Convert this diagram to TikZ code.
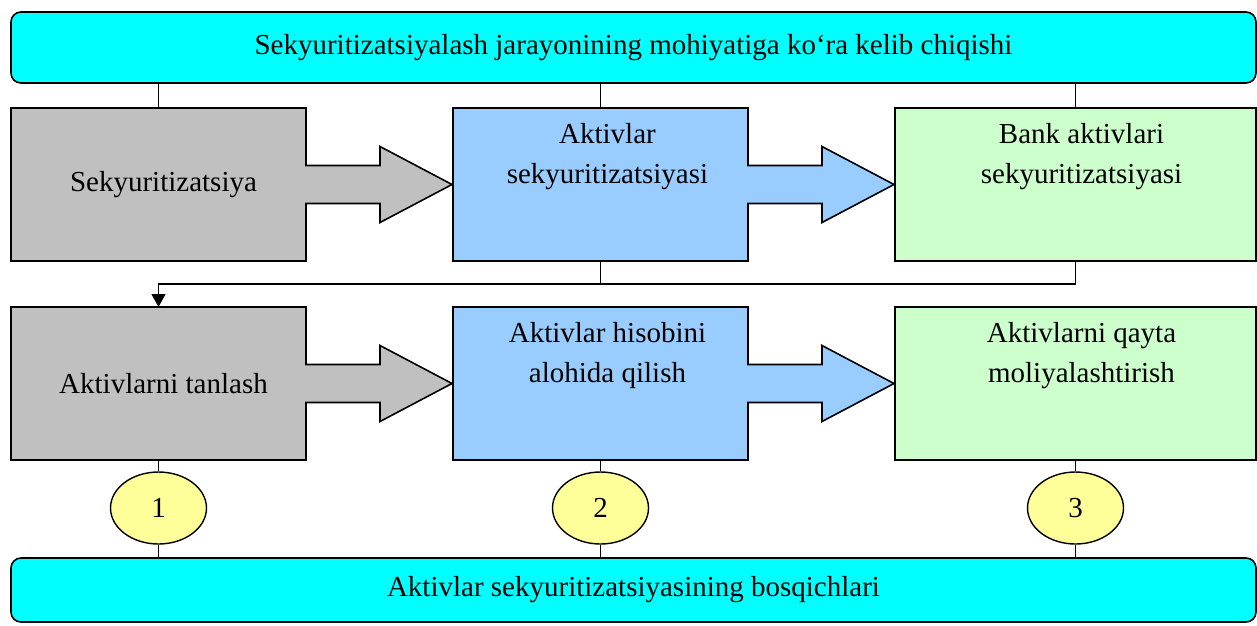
\documentclass[tikz,border=0pt]{standalone}
\usepackage{fontspec}
\setmainfont{Liberation Serif}
\usetikzlibrary{calc,arrows.meta,shapes.geometric}

\definecolor{bannercyan}{HTML}{00FFFF}
\definecolor{panelgray}{HTML}{C0C0C0}
\definecolor{panelblue}{HTML}{99CCFF}
\definecolor{panelgreen}{HTML}{CCFFCC}
\definecolor{stageyellow}{HTML}{FFFF99}

\tikzset{
  outline/.style={draw=black, line width=1.6pt, line join=miter},
  link/.style={draw=black, line width=1.2pt},
  panel/.style={rectangle, inner sep=0pt, outer sep=0pt,
    minimum width=295pt, minimum height=153pt},
  widepanel/.style={panel, minimum width=361pt},
  banner/.style={rectangle, rounded corners=10pt, outline, fill=bannercyan,
    inner sep=0pt, minimum width=1245pt, font=\fontsize{29}{40}\selectfont},
  label/.style={align=center, inner sep=0pt, font=\fontsize{29}{40}\selectfont},
  stage/.style={ellipse, outline, line width=1.4pt, fill=stageyellow, inner sep=0pt,
    minimum width=96pt, minimum height=72pt, font=\fontsize{29}{40}\selectfont},
}

% box with a block arrow growing out of its right side
\newcommand\panelarrow[2]{%
  \filldraw[outline, fill=#2]
    (#1.north west) -- (#1.north east) -- ($(#1.east)+(0,-19)$)
    -- ($(#1.east)+(74,-19)$) -- ($(#1.east)+(74,-38)$)
    -- ($(#1.east)+(146,0)$)
    -- ($(#1.east)+(74,38)$) -- ($(#1.east)+(74,19)$)
    -- ($(#1.east)+(0,19)$) -- (#1.south east) -- (#1.south west) -- cycle;}

\begin{document}
\begin{tikzpicture}[x=1pt, y=-1pt]
\useasboundingbox (0,0) rectangle (1257,625);

% banners
\node[banner, minimum height=71pt] (top) at (633.5,47.5)
  {Sekyuritizatsiyalash jarayonining mohiyatiga ko‘ra kelib chiqishi};
\node[banner, minimum height=64pt] (bottom) at (633.5,590)
  {Aktivlar sekyuritizatsiyasining bosqichlari};

% panel frames
\node[panel] (g1) at (158.5,184.5) {};
\node[panel] (b1) at (600.5,184.5) {};
\node[widepanel] (gr1) at (1075.5,184.5) {};
\node[panel] (g2) at (158.5,383.5) {};
\node[panel] (b2) at (600.5,383.5) {};
\node[widepanel] (gr2) at (1075.5,383.5) {};

\panelarrow{g1}{panelgray}
\panelarrow{b1}{panelblue}
\filldraw[outline, fill=panelgreen] (gr1.north west) rectangle (gr1.south east);
\panelarrow{g2}{panelgray}
\panelarrow{b2}{panelblue}
\filldraw[outline, fill=panelgreen] (gr2.north west) rectangle (gr2.south east);

% panel texts
\node[label] (t1) at ($(g1.center)+(5,0)$) {Sekyuritizatsiya};
\node[label] (t2) at ($(b1.north)+(7,49)$) {Aktivlar\\sekyuritizatsiyasi};
\node[label] (t3) at ($(gr1.north)+(6,49)$) {Bank aktivlari\\sekyuritizatsiyasi};
\node[label] (t4) at ($(g2.center)+(5,0)$) {Aktivlarni tanlash};
\node[label] (t5) at ($(b2.north)+(7,49)$) {Aktivlar hisobini\\alohida qilish};
\node[label] (t6) at ($(gr2.north)+(6,49)$) {Aktivlarni qayta\\moliyalashtirish};

% links from the upper banner
\draw[link] (top.south -| g1.north) -- (g1.north);
\draw[link] (top.south -| b1.north) -- (b1.north);
\draw[link] (top.south -| gr1.north) -- (gr1.north);

% return line into the second row
\coordinate (bend) at (0,284);
\draw[link] (b1.south) -- (b1.south |- bend);
\draw[link, -{Triangle[width=14pt,length=13pt]}]
  (gr1.south) -- (gr1.south |- bend) -| (g2.north);

% stage numbers
\node[stage] (n1) at ($(g2.south)+(0,48)$) {1};
\node[stage] (n2) at ($(b2.south)+(0,48)$) {2};
\node[stage] (n3) at ($(gr2.south)+(0,48)$) {3};
\foreach \p/\n in {g2/n1, b2/n2, gr2/n3}{
  \draw[link] (\p.south) -- (\n.north);
  \draw[link] (\n.south) -- (\n.south |- bottom.north);
}
\end{tikzpicture}
\end{document}
